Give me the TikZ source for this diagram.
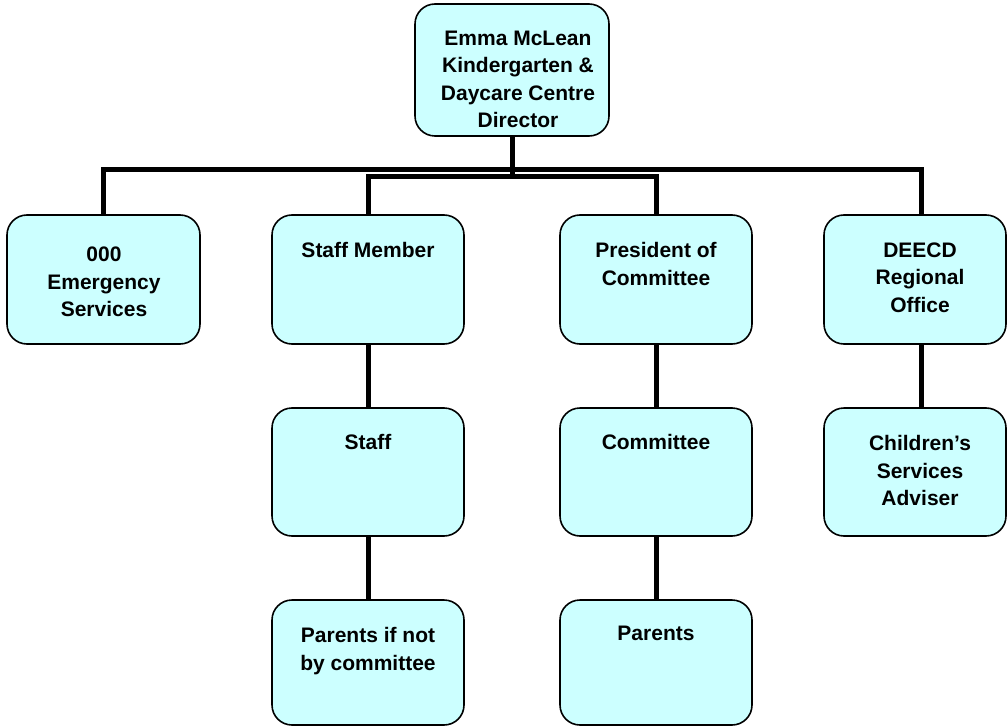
\documentclass[tikz,border=0pt]{standalone}
\usepackage{fontspec}
\setmainfont{Liberation Sans}
\definecolor{boxfill}{HTML}{CCFFFF}
\begin{document}
\begin{tikzpicture}[x=1pt,y=-1pt,
  box/.style={draw=black, line width=1.6pt, fill=boxfill, rounded corners=20pt, inner sep=0pt},
  txt/.style={anchor=north, align=center, inner sep=0pt, font=\fontsize{21}{27.5}\selectfont\bfseries},
  conn/.style={line width=5pt}]
\useasboundingbox (0,0) rectangle (1008,727);
% boxes
\node[box, minimum width=194pt, minimum height=132pt] (top) at (512,70) {};
\node[box, minimum width=193pt, minimum height=129pt] (b1) at (103.5,279.5) {};
\node[box, minimum width=192pt, minimum height=129pt] (b2) at (368,279.5) {};
\node[box, minimum width=192pt, minimum height=129pt] (b3) at (656,279.5) {};
\node[box, minimum width=182pt, minimum height=129pt] (b4) at (915,279.5) {};
\node[box, minimum width=192pt, minimum height=128pt] (s2) at (368,472) {};
\node[box, minimum width=192pt, minimum height=128pt] (s3) at (656,472) {};
\node[box, minimum width=182pt, minimum height=128pt] (s4) at (915,472) {};
\node[box, minimum width=192pt, minimum height=125pt] (p2) at (368,662.5) {};
\node[box, minimum width=192pt, minimum height=125pt] (p3) at (656,662.5) {};
% texts
\node[txt] (ttop) at (518,30.5) {Emma McLean\\Kindergarten \&\\Daycare Centre\\Director};
\node[txt] (tb1) at (104,247) {000\\Emergency\\Services};
\node[txt] (tb2) at (368,242.5) {Staff Member};
\node[txt] (tb3) at (656,242.5) {President of\\Committee};
\node[txt] (tb4) at (920,242.5) {DEECD\\Regional\\Office};
\node[txt] (ts2) at (368,434.5) {Staff};
\node[txt] (ts3) at (656,434.5) {Committee};
\node[txt] (ts4) at (920,435.5) {Children’s\\Services\\Adviser};
\node[txt] (tp2) at (368,627.5) {Parents if not\\by committee};
\node[txt] (tp3) at (656,626) {Parents};
% connectors
\coordinate (h1) at (0,169.5);
\coordinate (h2) at (0,176.5);
\coordinate (h3) at (0,179);
\coordinate (b4stem) at ([xshift=6pt]b4.north);
\coordinate (s4stem) at ([xshift=6pt]s4.north);
\coordinate (b4bot) at ([xshift=6pt]b4.south);
\draw[conn] (top.south) -- (top.south |- h3);
\draw[conn] (b1.north) -- (b1.north |- h1) -- (b4stem |- h1) -- (b4stem);
\draw[conn] (b2.north) -- (b2.north |- h2) -- (b3.north |- h2) -- (b3.north);
\draw[conn] (b2.south) -- (s2.north);
\draw[conn] (b3.south) -- (s3.north);
\draw[conn] (b4bot) -- (s4stem);
\draw[conn] (s2.south) -- (p2.north);
\draw[conn] (s3.south) -- (p3.north);
\end{tikzpicture}
\end{document}
